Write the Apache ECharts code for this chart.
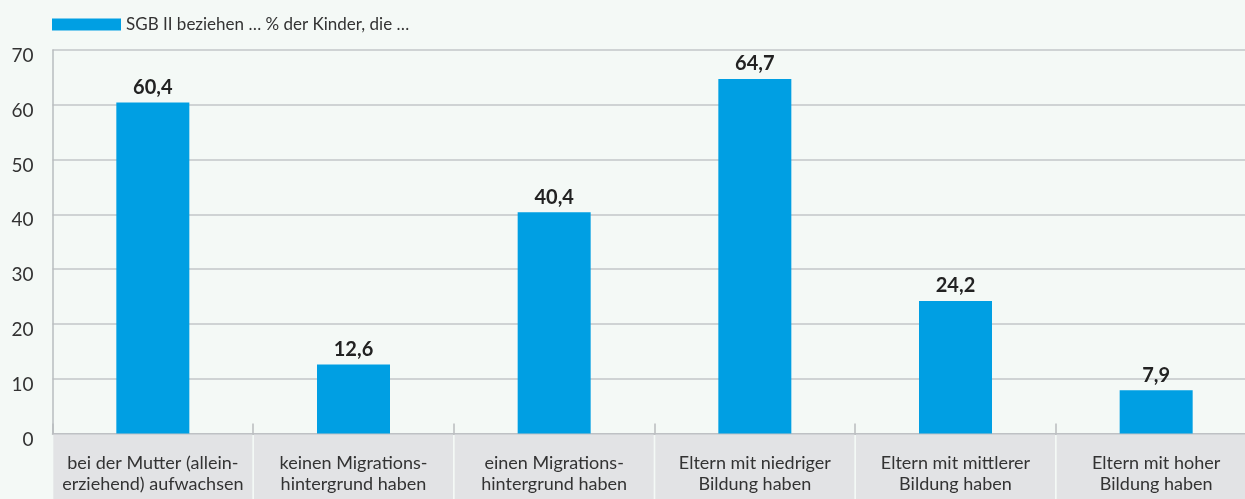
<!DOCTYPE html>
<html><head><meta charset="utf-8">
<script src="https://cdn.jsdelivr.net/npm/echarts@6/dist/echarts.min.js"></script>
<style>html,body{margin:0;padding:0;background:#f4f9f6;}#c{width:1245px;height:499px;}</style>
</head><body><div id="c"></div>
<script>
const categories = [
  "bei der Mutter (allein-\nerziehend) aufwachsen",
  "keinen Migrations-\nhintergrund haben",
  "einen Migrations-\nhintergrund haben",
  "Eltern mit niedriger\nBildung haben",
  "Eltern mit mittlerer\nBildung haben",
  "Eltern mit hoher\nBildung haben"
];
const seriesName = "SGB II beziehen … % der Kinder, die …";
const values = [60.4, 12.6, 40.4, 64.7, 24.2, 7.9];
const yTicks = [0, 10, 20, 30, 40, 50, 60, 70];

const chart = echarts.init(document.getElementById('c'));
chart.setOption({
  backgroundColor: '#f4f9f6',
  textStyle: { fontFamily: 'Lato' },
  animation: false,
  legend: {
    left: 52, top: 16, itemWidth: 69, itemHeight: 12, padding: 0,
    icon: 'rect',
    textStyle: { fontSize: 17, color: '#333', fontFamily: 'Lato' },
    data: [seriesName]
  },
  grid: { left: 52.5, top: 50, bottom: 65.5, right: -11.5, containLabel: false, outerBoundsMode: 'none' },
  xAxis: {
    type: 'category',
    data: categories,
    axisLine: { show: true, lineStyle: { color: '#b9bcbf', width: 1.5 } },
    axisTick: { show: true, inside: true, length: 10, alignWithLabel: false, lineStyle: { color: '#b9bcbf', width: 1.5 } },
    axisLabel: {
      interval: 0, margin: 1,
      fontSize: 18, color: '#333', fontFamily: 'Lato',
      lineHeight: 21,
      backgroundColor: '#e2e3e5',
      width: 199,
      padding: [18, 0, 9, 0],
      align: 'center'
    }
  },
  yAxis: {
    type: 'value', min: 0, max: 70, interval: 10,
    axisLine: { show: true, lineStyle: { color: '#b9bcbf', width: 1.5 } },
    axisTick: { show: false },
    splitLine: { lineStyle: { color: '#c3c6c8', width: 1.5 } },
    axisLabel: {
      fontSize: 19, color: '#333', fontFamily: 'Lato', margin: 19,
      verticalAlign: 'top', lineHeight: 12,
      formatter: v => yTicks.includes(v) ? String(v) : ''
    }
  },
  series: [{
    name: seriesName,
    type: 'bar',
    data: values,
    barWidth: 73,
    itemStyle: { color: '#009fe3' },
    label: {
      show: true, position: 'top', distance: 5,
      fontSize: 20, fontWeight: 'bold', color: '#222', fontFamily: 'Lato',
      formatter: p => String(p.value).replace('.', ',')
    }
  }]
});
</script></body></html>
